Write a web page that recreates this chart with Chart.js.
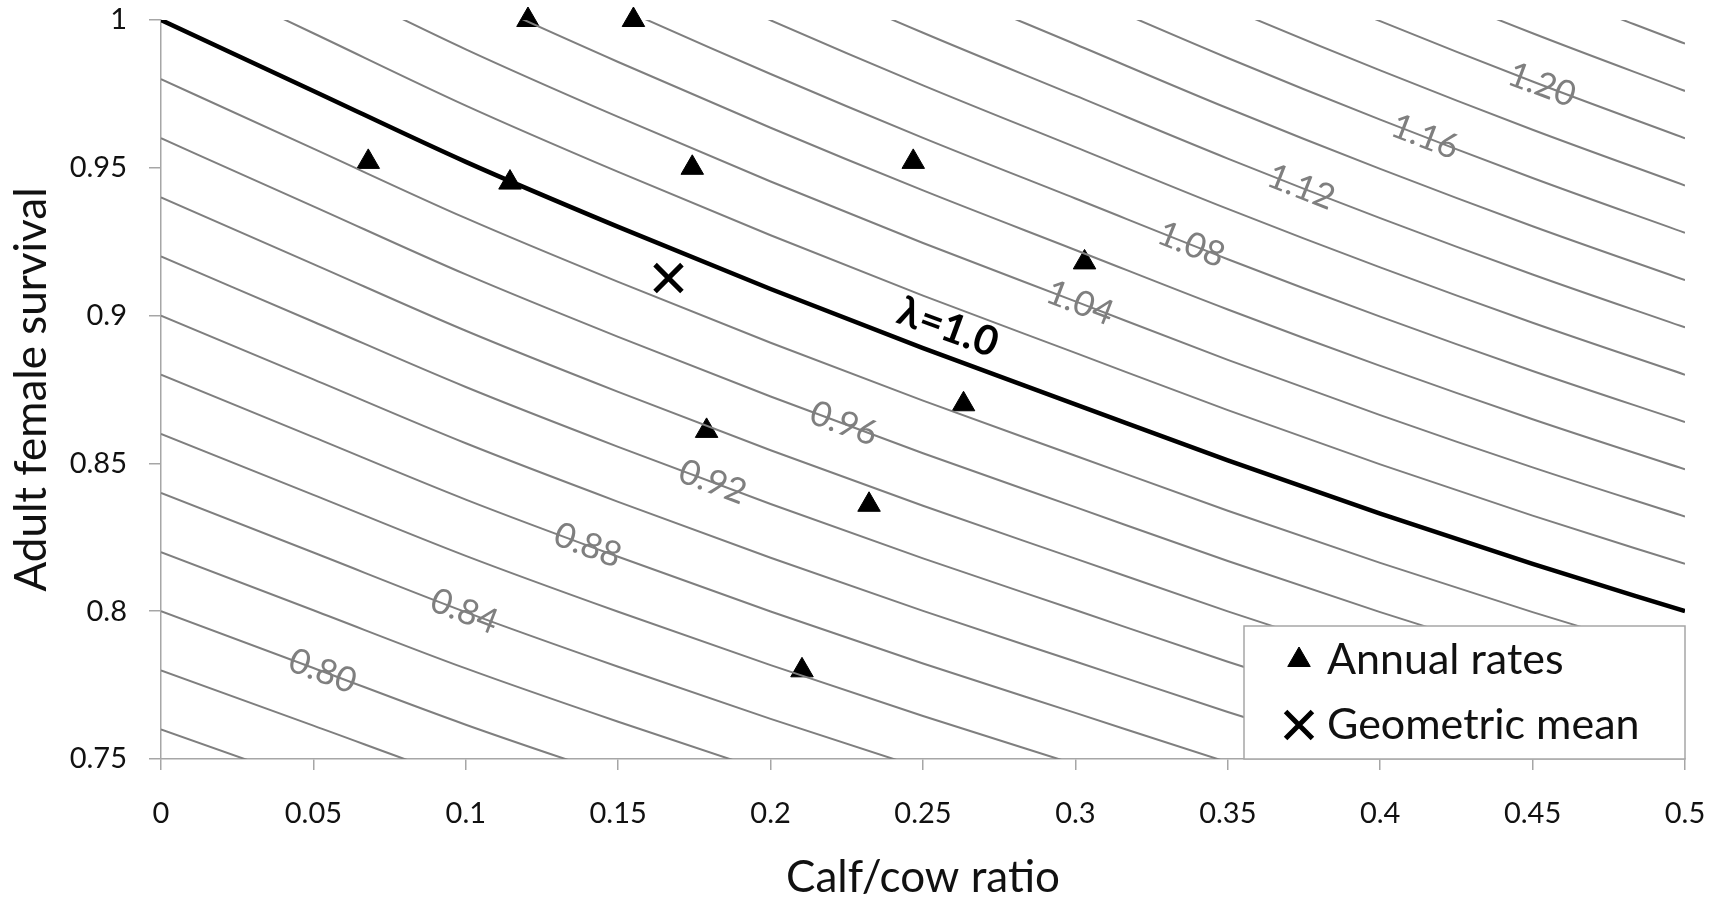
<!DOCTYPE html>
<html lang="en">

<head>
  <title>Adult female survival vs calf/cow ratio</title>
  <meta charset="UTF-8">
  <script src="https://cdn.jsdelivr.net/npm/chart.js@4.4.1/dist/chart.umd.min.js"></script>
  <style>
    body { margin: 0; background: #fff; }
  </style>
</head>

<body>
  <canvas id="myChart" width="1722" height="900"></canvas>
  <script>
    // observed annual rates
    const annualCalfRatio = [0.068, 0.1145, 0.1204, 0.155, 0.1743, 0.179, 0.2103, 0.2323, 0.2468, 0.2633, 0.303];
    const annualSurvival = [0.952, 0.945, 1.0, 1.0, 0.950, 0.861, 0.780, 0.836, 0.952, 0.870, 0.918];
    const meanCalfRatio = [0.1665];
    const meanSurvival = [0.9127];

    // lambda isolines, 1.00 is the heavy one
    const lambdaLevels = [0.76, 0.78, 0.80, 0.82, 0.84, 0.86, 0.88, 0.90, 0.92, 0.94, 0.96, 0.98, 1.00,
      1.02, 1.04, 1.06, 1.08, 1.10, 1.12, 1.14, 1.16, 1.18, 1.20, 1.22, 1.24];
    // survival read along the lambda = 1 curve; other isolines scale with lambda
    const curveCalfRatio = [0, 0.05, 0.1, 0.15, 0.2, 0.25, 0.3, 0.35, 0.4, 0.45, 0.5];
    const survivalAtLambdaOne = [1.000, 0.976, 0.952, 0.930, 0.909, 0.889, 0.870, 0.851, 0.833, 0.816, 0.800];

    // isoline labels and where they sit along x
    const contourLabels = ['0.80', '0.84', '0.88', '0.92', '0.96', 'λ=1.0', '1.04', '1.08', '1.12', '1.16', '1.20'];
    const contourLabelLevels = [0.80, 0.84, 0.88, 0.92, 0.96, 1.00, 1.04, 1.08, 1.12, 1.16, 1.20];
    const contourLabelCalfRatio = [0.053, 0.0995, 0.140, 0.181, 0.224, 0.255, 0.3015, 0.338, 0.374, 0.4147, 0.453];

    const xTicks = [0, 0.05, 0.1, 0.15, 0.2, 0.25, 0.3, 0.35, 0.4, 0.45, 0.5];
    const xTickLabels = ['0', '0.05', '0.1', '0.15', '0.2', '0.25', '0.3', '0.35', '0.4', '0.45', '0.5'];
    const yTicks = [0.75, 0.8, 0.85, 0.9, 0.95, 1];
    const yTickLabels = ['0.75', '0.8', '0.85', '0.9', '0.95', '1'];

    const FONT = 'Lato, "Open Sans", sans-serif';
    const AXIS_GREY = '#a6a6a6';
    const LINE_GREY = '#7f7f7f';

    Chart.defaults.font.family = FONT;
    Chart.defaults.color = '#111';

    const contourSets = lambdaLevels.map(level => ({
      label: 'λ=' + level.toFixed(2),
      data: curveCalfRatio.map((x, i) => ({ x: x, y: level * survivalAtLambdaOne[i] })),
      showLine: true,
      borderColor: level === 1 ? '#000' : LINE_GREY,
      borderWidth: level === 1 ? 4.5 : 2,
      pointRadius: 0,
      cubicInterpolationMode: 'monotone',
      order: 1
    }));

    const annualSet = {
      label: 'Annual rates',
      data: annualCalfRatio.map((x, i) => ({ x: x, y: annualSurvival[i] })),
      pointStyle: 'triangle',
      pointRadius: 13,
      backgroundColor: '#000',
      borderColor: '#000',
      borderWidth: 1,
      clip: false,
      order: 2
    };

    const meanSet = {
      label: 'Geometric mean',
      data: meanCalfRatio.map((x, i) => ({ x: x, y: meanSurvival[i] })),
      pointStyle: 'crossRot',
      pointRadius: 19,
      borderColor: '#000',
      borderWidth: 5,
      clip: false,
      order: 2
    };

    // text along the isolines, rotated with the local slope
    const contourLabelPlugin = {
      id: 'contourLabels',
      afterDatasetsDraw(chart) {
        const ctx = chart.ctx;
        const xScale = chart.scales.x;
        contourLabels.forEach((text, k) => {
          const idx = lambdaLevels.findIndex(l => Math.abs(l - contourLabelLevels[k]) < 1e-9);
          const pts = chart.getDatasetMeta(idx).data;
          const px = xScale.getPixelForValue(contourLabelCalfRatio[k]);
          let j = 0;
          while (j < pts.length - 2 && pts[j + 1].x < px) j++;
          const a = pts[j], b = pts[j + 1];
          const t = (px - a.x) / (b.x - a.x);
          const py = a.y + t * (b.y - a.y);
          const angle = Math.atan2(b.y - a.y, b.x - a.x);
          const heavy = contourLabelLevels[k] === 1;
          ctx.save();
          ctx.translate(px, py);
          ctx.rotate(angle);
          ctx.textAlign = 'center';
          ctx.textBaseline = 'middle';
          ctx.fillStyle = heavy ? '#000' : LINE_GREY;
          ctx.font = heavy ? 'bold 41px ' + FONT : '35px ' + FONT;
          ctx.fillText(text, 0, heavy ? -28 : 0);
          ctx.restore();
        });
      }
    };

    // boxed legend in the lower right corner of the plot
    const boxLegendPlugin = {
      id: 'boxLegend',
      afterDraw(chart) {
        const ctx = chart.ctx;
        const area = chart.chartArea;
        const w = 441, h = 133;
        const left = area.right - w, top = area.bottom - h;
        ctx.save();
        ctx.fillStyle = '#fff';
        ctx.fillRect(left, top, w, h);
        ctx.strokeStyle = AXIS_GREY;
        ctx.lineWidth = 1.5;
        ctx.strokeRect(left, top, w, h);
        [annualSet, meanSet].forEach((ds, i) => {
          const cy = top + 34 + i * 65;
          ctx.fillStyle = '#000';
          ctx.strokeStyle = '#000';
          ctx.lineWidth = ds.borderWidth;
          Chart.helpers.drawPoint(ctx, { pointStyle: ds.pointStyle, radius: ds.pointRadius, borderWidth: ds.borderWidth, rotation: 0 }, left + 55, cy);
          ctx.fillStyle = '#111';
          ctx.font = '43px ' + FONT;
          ctx.textAlign = 'left';
          ctx.textBaseline = 'middle';
          ctx.fillText(ds.label, left + 83, cy);
        });
        ctx.restore();
      }
    };

    new Chart('myChart', {
      type: 'scatter',
      data: { datasets: [...contourSets, annualSet, meanSet] },
      plugins: [contourLabelPlugin, boxLegendPlugin],
      options: {
        responsive: false,
        animation: false,
        events: [],
        layout: { autoPadding: false, padding: { top: 20, right: 37, left: 0, bottom: 0 } },
        plugins: { legend: { display: false }, tooltip: { enabled: false } },
        scales: {
          x: {
            type: 'linear',
            min: 0,
            max: 0.5,
            afterBuildTicks: scale => { scale.ticks = xTicks.map(v => ({ value: v })); },
            afterFit: scale => {
              scale.height = 141;
              // end labels overhang is covered by the layout padding
              scale.paddingLeft = 0;
              scale.paddingRight = 0;
            },
            ticks: {
              padding: 26,
              font: { size: 29 },
              color: '#111',
              callback: (value, index) => xTickLabels[index]
            },
            grid: { drawOnChartArea: false, drawTicks: true, tickLength: 11, color: AXIS_GREY, lineWidth: 1.5 },
            border: { display: true, color: AXIS_GREY, width: 1.5 },
            title: { display: true, text: 'Calf/cow ratio', font: { size: 44, lineHeight: 1 }, color: '#111', padding: 0 }
          },
          y: {
            type: 'linear',
            min: 0.75,
            max: 1,
            afterBuildTicks: scale => { scale.ticks = yTicks.map(v => ({ value: v })); },
            afterFit: scale => {
              scale.width = 161;
              scale.paddingTop = 0;
              scale.paddingBottom = 0;
            },
            ticks: {
              padding: 22,
              font: { size: 29 },
              color: '#111',
              callback: (value, index) => yTickLabels[index]
            },
            grid: { drawOnChartArea: false, drawTicks: true, tickLength: 12, color: AXIS_GREY, lineWidth: 1.5 },
            border: { display: true, color: AXIS_GREY, width: 1.5 },
            title: { display: true, text: 'Adult female survival', font: { size: 44, lineHeight: 1 }, color: '#111', padding: { top: 10, bottom: 0 } }
          }
        }
      }
    });
  </script>
</body>

</html>
